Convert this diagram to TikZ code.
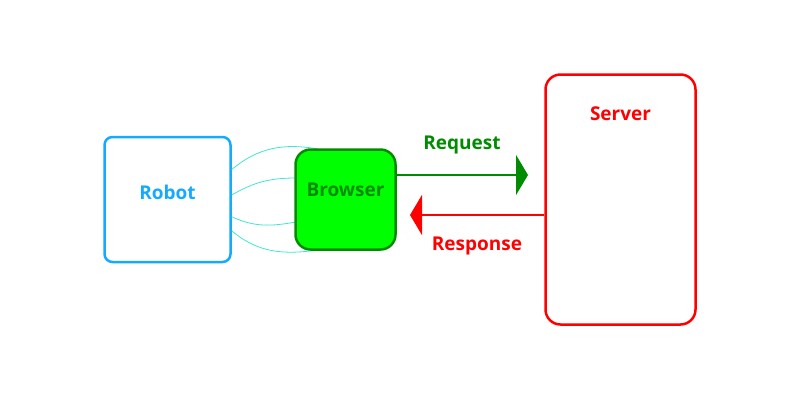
\documentclass[tikz,border=0pt]{standalone}
\usepackage{fontspec}
\setmainfont{Open Sans}
\usetikzlibrary{arrows.meta}
\definecolor{robotc}{HTML}{14AAFF}
\definecolor{curvec}{HTML}{3FE6D2}
\definecolor{gfill}{HTML}{00FF00}
\definecolor{gdark}{HTML}{008C00}
\definecolor{redc}{HTML}{FF0000}
\begin{document}
\begin{tikzpicture}[x=1pt,y=-1pt,
  lbl/.style={font=\fontsize{19}{21}\selectfont\bfseries},
  box/.style={draw,line width=2.5pt,inner sep=0pt},
  wire/.style={draw=curvec,line width=0.8pt},
  bigtip/.style={-{Triangle[length=12pt,width=40pt]}}]
\useasboundingbox (0,0) rectangle (800,400);
\node[box,draw=robotc,rounded corners=8pt,minimum width=126pt,minimum height=125pt] (robot) at (167.5,199.5) {};
\node[lbl,text=robotc] (robotlbl) at (167.5,192) {Robot};
\node[box,draw=redc,rounded corners=15pt,minimum width=150pt,minimum height=250pt] (server) at (620.5,199.5) {};
\node[lbl,text=redc] (serverlbl) at (620.5,114) {Server};
\draw[wire] (robot.25) to[out=40,in=170] (318,149) coordinate (b1);
\draw[wire] (robot.4) to[out=30,in=180] (296,178) coordinate (b2);
\draw[wire] (robot.-15) to[out=-25,in=190] (296,222) coordinate (b3);
\draw[wire] (robot.-26) to[out=-40,in=188] (318,250) coordinate (b4);
\node[box,draw=gdark,fill=gfill,rounded corners=15pt,minimum width=100pt,minimum height=100pt] (browser) at (345.5,199.5) {};
\node[lbl,text=gdark] (browserlbl) at (345.5,190) {Browser};
\coordinate (reqend) at (528,175);
\coordinate (resend) at (410,215);
\draw[gdark,line width=2pt,bigtip] (browser.east |- reqend) -- (reqend);
\draw[redc,line width=2pt,bigtip] (server.west |- resend) -- (resend);
\node[lbl,text=gdark] (reqlbl) at (462,145) {Request};
\node[lbl,text=redc] (reslbl) at (477,246) {Response};
\end{tikzpicture}
\end{document}
